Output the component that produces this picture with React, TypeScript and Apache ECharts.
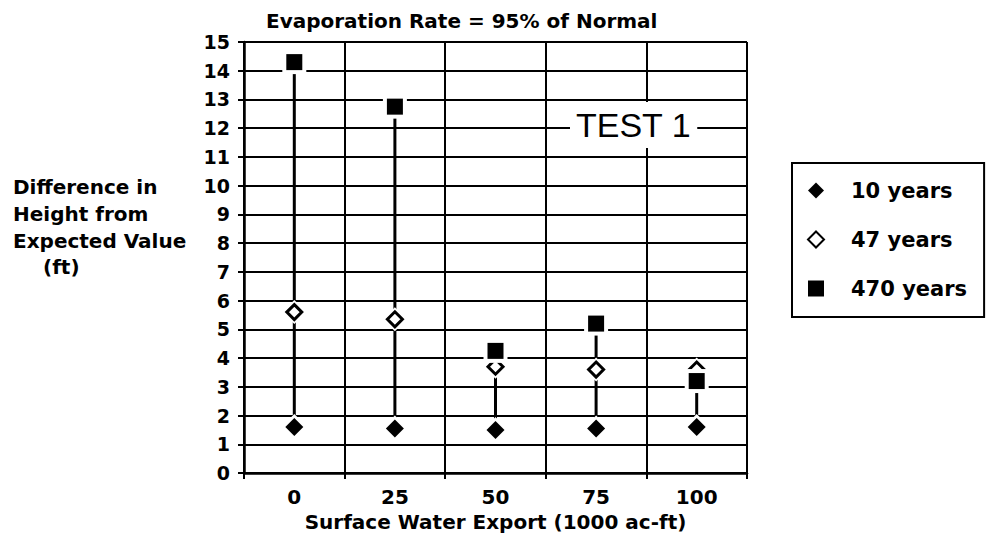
import React, { useEffect, useRef } from "react";
import * as echarts from "echarts";

const categories = ["0", "25", "50", "75", "100"];
const years10 = [1.6, 1.55, 1.5, 1.55, 1.6];
const years47 = [5.6, 5.35, 3.7, 3.6, 3.6];
const years470 = [14.3, 12.75, 4.25, 5.2, 3.2];
const yTicks = { min: 0, max: 15, interval: 1 };
const seriesNames = ["10 years", "47 years", "470 years"];

const FONT = "DejaVu Sans";

export default function App() {
  const ref = useRef<HTMLDivElement>(null);
  useEffect(() => {
    if (!ref.current) return;
    const chart = echarts.init(ref.current, undefined, { renderer: "svg" });
    const stems = categories.map((_, i) => {
      const vals = [years10[i], years47[i], years470[i]];
      return [i, Math.min(...vals), Math.max(...vals)];
    });
    const txt = { fontFamily: FONT, fontWeight: "bold" as const, color: "#000" };
    chart.setOption({
      animation: false,
      backgroundColor: "#fff",
      title: {
        text: "Evaporation Rate = 95% of Normal",
        left: 266,
        top: 11,
        padding: 0,
        textStyle: { ...txt, fontSize: 20 },
      },
      grid: { left: 244, right: 239, top: 42, bottom: 84 },
      legend: {
        orient: "vertical",
        left: 792,
        top: 163,
        padding: [17, 17, 18, 15],
        itemGap: 28,
        itemWidth: 16,
        itemHeight: 16,
        borderColor: "#000",
        borderWidth: 2,
        textStyle: { ...txt, fontSize: 21, padding: [0, 0, 0, 22] },
        data: seriesNames,
      },
      xAxis: {
        type: "category",
        data: categories,
        boundaryGap: true,
        name: "Surface Water Export (1000 ac-ft)",
        nameLocation: "middle",
        nameGap: 37,
        nameTextStyle: { ...txt, fontSize: 20 },
        axisLine: { lineStyle: { color: "#000", width: 2.5 } },
        axisTick: { show: true, interval: 0, length: 6, lineStyle: { color: "#000", width: 2 } },
        axisLabel: { ...txt, fontSize: 20, margin: 14 },
        splitLine: { show: true, interval: 0, lineStyle: { color: "#000", width: 2 } },
      },
      yAxis: {
        type: "value",
        min: yTicks.min,
        max: yTicks.max,
        interval: yTicks.interval,
        axisLine: { show: true, lineStyle: { color: "#000", width: 2.5 } },
        axisTick: { show: true, length: 6, lineStyle: { color: "#000", width: 2 } },
        axisLabel: { ...txt, fontSize: 19, margin: 14 },
        splitLine: { show: true, lineStyle: { color: "#000", width: 2 } },
      },
      graphic: [
        { type: "text", left: 13, top: 177, z: 100, style: { text: "Difference in", font: `bold 20px "${FONT}"`, fill: "#000" } },
        { type: "text", left: 13, top: 204, z: 100, style: { text: "Height from", font: `bold 20px "${FONT}"`, fill: "#000" } },
        { type: "text", left: 13, top: 231, z: 100, style: { text: "Expected Value", font: `bold 20px "${FONT}"`, fill: "#000" } },
        { type: "text", left: 43, top: 257, z: 100, style: { text: "(ft)", font: `bold 20px "${FONT}"`, fill: "#000" } },
        {
          type: "text",
          left: 570,
          top: 102,
          z: 100,
          style: {
            text: "TEST 1",
            font: `34px "Liberation Sans"`,
            fill: "#000",
            backgroundColor: "#fff",
            padding: [6, 6, 6, 6],
          },
        },
      ],
      series: [
        {
          type: "custom",
          name: "stems",
          z: 2,
          silent: true,
          encode: { x: 0, y: [1, 2] },
          data: stems,
          renderItem: (params: any, api: any) => {
            const x = api.value(0);
            const lo = api.coord([x, api.value(1)]);
            const hi = api.coord([x, api.value(2)]);
            return {
              type: "line",
              shape: { x1: lo[0], y1: lo[1], x2: hi[0], y2: hi[1] },
              style: { stroke: "#000", lineWidth: 3 },
            };
          },
        },
        { type: "scatter", name: "_h10", z: 3, silent: true, symbol: "diamond", symbolSize: 26, itemStyle: { color: "#fff", opacity: 1 }, data: years10 },
        { type: "scatter", name: "_h47", z: 3, silent: true, symbol: "diamond", symbolSize: 24, itemStyle: { color: "#fff", opacity: 1 }, data: years47 },
        { type: "scatter", name: "10 years", z: 4, symbol: "diamond", symbolSize: 18, itemStyle: { color: "#000", opacity: 1 }, data: years10 },
        { type: "scatter", name: "47 years", z: 4, symbol: "diamond", symbolSize: 15, itemStyle: { color: "#fff", borderColor: "#000", borderWidth: 3, opacity: 1 }, data: years47 },
        { type: "scatter", name: "_h470", z: 5, silent: true, symbol: "rect", symbolSize: 24, itemStyle: { color: "#fff", opacity: 1 }, data: years470 },
        { type: "scatter", name: "470 years", z: 6, symbol: "rect", symbolSize: 16, itemStyle: { color: "#000", opacity: 1 }, data: years470 },
      ],
    });
    return () => chart.dispose();
  }, []);
  return <div ref={ref} style={{ position: "fixed", left: 0, top: 0, width: 986, height: 557 }} />;
}
